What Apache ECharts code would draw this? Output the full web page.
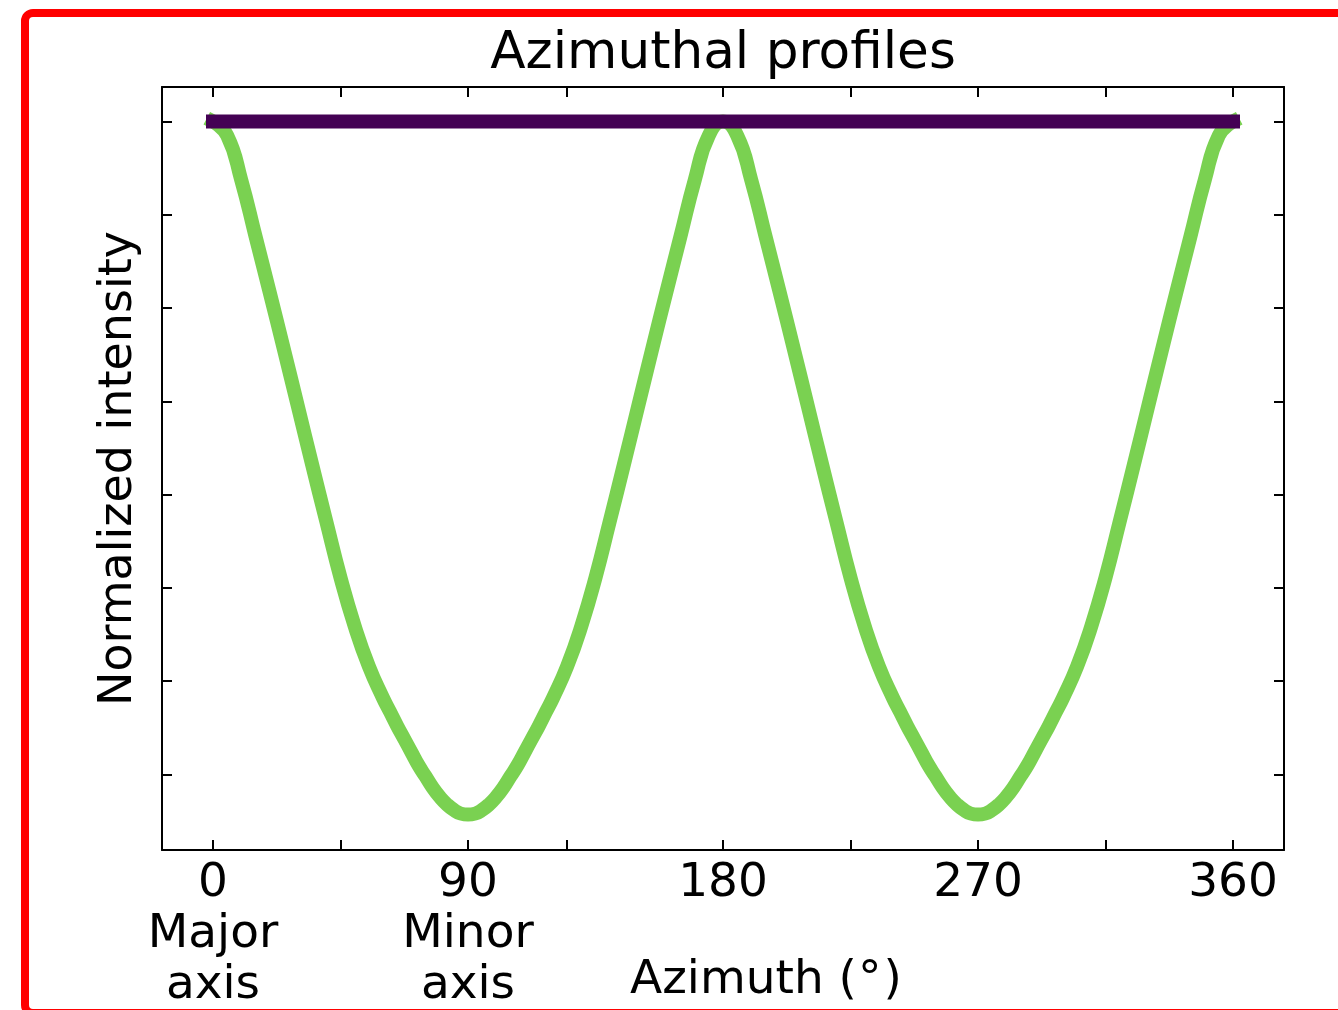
<!DOCTYPE html>
<html>
<head>
<meta charset="utf-8">
<script src="https://cdn.jsdelivr.net/npm/echarts@6/dist/echarts.min.js"></script>
<style>
  html, body { margin: 0; padding: 0; background: #ffffff; }
  #chart { width: 1338px; height: 1010px; }
</style>
</head>
<body>
<div id="chart"></div>
<script>
// Azimuth samples (degrees); finer spacing around the minima
const azimuth = [
  0, 5, 10, 15, 20, 25, 30, 35, 40, 45, 50, 55,
  60, 62.5, 65, 67.5, 70, 72.5, 75, 77.5, 80, 82.5, 85, 87.5,
  90, 92.5, 95, 97.5, 100, 102.5, 105, 107.5, 110, 112.5, 115, 117.5,
  120, 125, 130, 135, 140, 145, 150, 155, 160, 165, 170, 175,
  180, 185, 190, 195, 200, 205, 210, 215, 220, 225, 230, 235,
  240, 242.5, 245, 247.5, 250, 252.5, 255, 257.5, 260, 262.5, 265, 267.5,
  270, 272.5, 275, 277.5, 280, 282.5, 285, 287.5, 290, 292.5, 295, 297.5,
  300, 305, 310, 315, 320, 325, 330, 335, 340, 345, 350, 355,
  360
];

// Normalized intensity of the elliptical ring profile
const ringProfile = [
  1.000, 0.985, 0.937, 0.877, 0.817, 0.756, 0.694, 0.632, 0.571, 0.511, 0.459, 0.416,
  0.382, 0.367, 0.352, 0.338, 0.324, 0.310, 0.298, 0.286, 0.276, 0.268, 0.262, 0.258,
  0.257, 0.258, 0.262, 0.268, 0.276, 0.286, 0.298, 0.310, 0.324, 0.338, 0.352, 0.367,
  0.382, 0.416, 0.459, 0.511, 0.571, 0.632, 0.694, 0.756, 0.817, 0.877, 0.937, 0.985,
  1.000, 0.985, 0.937, 0.877, 0.817, 0.756, 0.694, 0.632, 0.571, 0.511, 0.459, 0.416,
  0.382, 0.367, 0.352, 0.338, 0.324, 0.310, 0.298, 0.286, 0.276, 0.268, 0.262, 0.258,
  0.257, 0.258, 0.262, 0.268, 0.276, 0.286, 0.298, 0.310, 0.324, 0.338, 0.352, 0.367,
  0.382, 0.416, 0.459, 0.511, 0.571, 0.632, 0.694, 0.756, 0.817, 0.877, 0.937, 0.985,
  1.000
];

// Normalized intensity of the circular (face-on) profile
const flatAzimuth = [0, 360];
const flatProfile = [1.0, 1.0];

// Axis ticks and labels
const xTickValues = [0, 45, 90, 125, 180, 225, 270, 315, 360];
const xLabelValues = [0, 90, 180, 270, 360];
const xLabelText = {
  0: '0\nMajor\naxis',
  90: '90\nMinor\naxis',
  180: '180',
  270: '270',
  360: '360'
};
const yTickValues = [0.3, 0.4, 0.5, 0.6, 0.7, 0.8, 0.9, 1.0];

const FONT = 'DejaVu Sans';
const X_MIN = -18, X_MAX = 378;
const Y_MIN = 0.219, Y_MAX = 1.037;

const chart = echarts.init(document.getElementById('chart'), null, { renderer: 'canvas' });

const frameAxisLine = { show: true, onZero: false, lineStyle: { color: '#000000', width: 2 } };
const innerTick = (values) => ({
  show: true, inside: true, length: 10, customValues: values,
  lineStyle: { color: '#000000', width: 2 }
});

const option = {
  animation: false,
  backgroundColor: '#ffffff',
  title: {
    text: 'Azimuthal profiles',
    left: 718,
    textAlign: 'center',
    top: 24,
    textStyle: { fontFamily: FONT, fontSize: 51.7, fontWeight: 'normal', color: '#000000' }
  },
  grid: {
    left: 162, top: 87, right: 54, bottom: 160,
    containLabel: false, outerBoundsMode: 'none'
  },
  xAxis: [
    {
      type: 'value', min: X_MIN, max: X_MAX, position: 'bottom',
      axisLine: frameAxisLine,
      axisTick: innerTick(xTickValues),
      splitLine: { show: false },
      axisLabel: {
        show: true, customValues: xLabelValues, margin: 8,
        fontFamily: FONT, fontSize: 47, lineHeight: 51, color: '#000000', align: 'center',
        formatter: (v) => xLabelText[v] !== undefined ? xLabelText[v] : ''
      }
    },
    {
      type: 'value', min: X_MIN, max: X_MAX, position: 'top',
      axisLine: frameAxisLine,
      axisTick: innerTick(xTickValues),
      splitLine: { show: false },
      axisLabel: { show: false }
    }
  ],
  yAxis: [
    {
      type: 'value', min: Y_MIN, max: Y_MAX, position: 'left',
      name: 'Normalized intensity', nameLocation: 'middle', nameRotate: 90, nameGap: 20,
      nameTextStyle: { fontFamily: FONT, fontSize: 46, color: '#000000' },
      axisLine: frameAxisLine,
      axisTick: innerTick(yTickValues),
      splitLine: { show: false },
      axisLabel: { show: false }
    },
    {
      type: 'value', min: Y_MIN, max: Y_MAX, position: 'right',
      axisLine: frameAxisLine,
      axisTick: innerTick(yTickValues),
      splitLine: { show: false },
      axisLabel: { show: false }
    }
  ],
  graphic: [
    {
      type: 'text',
      left: 630, top: 957,
      style: {
        text: '{t|Azimuth (}{d|°}{t|)}',
        rich: {
          t: { fontFamily: FONT, fontSize: 47, fill: '#000000', color: '#000000' },
          d: { fontFamily: FONT, fontSize: 47, fill: '#000000', color: '#000000', padding: [0, 2, 0, 1] }
        }
      }
    },
    {
      type: 'rect',
      shape: { x: 25, y: 13, width: 1400, height: 1000, r: 8 },
      style: { fill: 'none', stroke: '#ff0000', lineWidth: 8 },
      z: 100
    }
  ],
  series: [
    {
      name: 'Elliptical ring',
      type: 'line',
      xAxisIndex: 0, yAxisIndex: 0,
      data: azimuth.map((a, i) => [a, ringProfile[i]]),
      smooth: 0.5,
      showSymbol: false,
      symbol: 'none',
      lineStyle: { color: '#7ad151', width: 14, cap: 'square', join: 'round' },
      z: 2
    },
    {
      name: 'Face-on ring',
      type: 'line',
      xAxisIndex: 0, yAxisIndex: 0,
      data: flatAzimuth.map((a, i) => [a, flatProfile[i]]),
      showSymbol: false,
      symbol: 'none',
      lineStyle: { color: '#440154', width: 14, cap: 'square' },
      z: 3
    }
  ]
};

chart.setOption(option);
</script>
</body>
</html>
